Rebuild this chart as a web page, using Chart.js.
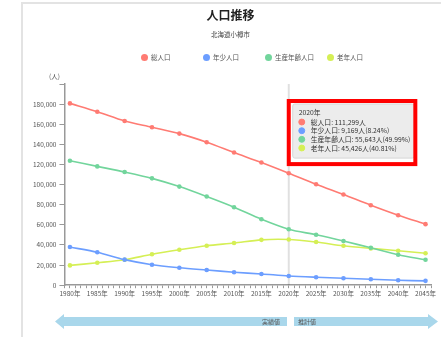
<!doctype html>
<html lang="ja">
<head>
<meta charset="utf-8">
<title>人口推移</title>
<script src="https://cdn.jsdelivr.net/npm/chart.js"></script>
<style>
  * { margin: 0; padding: 0; }
  body { width: 441px; height: 337px; overflow: hidden; background: #fff; position: relative;
         font-family: "Noto Sans CJK JP", sans-serif; }
  .frame { position: absolute; left: 21px; top: 2px; width: 440px; height: 400px;
           border-left: 2px solid #e3e3e3; border-top: 2px solid #e3e3e3; }
  .chartBox { position: absolute; left: 24px; top: 4px; width: 420px; height: 300px; }
  .legend { position: absolute; left: 141px; top: 53px; display: flex; font-size: 6.5px; color: #555; line-height: 8px; }
  .legend span { display: flex; align-items: center; width: 62px; }
  .legend i { display: block; width: 7px; height: 7px; border-radius: 50%; margin-right: 3px; }
  svg.band { position: absolute; left: 0; top: 0; }
</style>
</head>
<body>
<div class="frame"></div>
<div class="chartBox"><canvas id="popChart"></canvas></div>
<div class="legend" id="legend"></div>
<svg class="band" width="441" height="337">
  <polygon points="55,321.5 64,314 64,317 287,317 287,326 64,326 64,329" fill="#a9d7eb"/>
  <polygon points="294,317 428,317 428,314 438,321.5 428,329 428,326 294,326" fill="#a9d7eb"/>
  <text x="280" y="323.8" text-anchor="end" font-size="6" fill="#555" font-family="Noto Sans CJK JP">実績値</text>
  <text x="298" y="323.8" font-size="6" fill="#555" font-family="Noto Sans CJK JP">推計値</text>
</svg>

<script>
// 国勢調査(〜2020) と推計値(2025〜)
const years = [1980, 1985, 1990, 1995, 2000, 2005, 2010, 2015, 2020, 2025, 2030, 2035, 2040, 2045];
const total = [180728, 172486, 163211, 157022, 150687, 142161, 131928, 121924, 111299, 100300, 90100, 79500, 69600, 60700];
const young = [37900, 32800, 25400, 20400, 17400, 15100, 12900, 11200, 9169, 7900, 6900, 5900, 4900, 4300];
const working = [123700, 118100, 112500, 106200, 98000, 88100, 77500, 65600, 55643, 50100, 43900, 37200, 30300, 25300];
const elderly = [19700, 22300, 25300, 30700, 35200, 39200, 41900, 45100, 45426, 42900, 39200, 36600, 34300, 31700];

const seriesNames = ['総人口', '年少人口', '生産年齢人口', '老年人口'];
const seriesData = [total, young, working, elderly];
const colors = ['#ff7b73', '#6c9eff', '#72d59c', '#d5ef55'];
const yTicks = { min: 0, max: 200000, step: 20000 };
const focusYear = 2020;

Chart.defaults.font.family = '"Noto Sans CJK JP", sans-serif';
Chart.defaults.color = '#555';

// legend
const legend = document.getElementById('legend');
seriesNames.forEach((name, i) => {
  legend.innerHTML += '<span><i style="background:' + colors[i] + '"></i>' + name + '</span>';
});

Chart.Tooltip.positioners.topRight = function (items) {
  if (!items.length) return false;
  return { x: items[0].element.x + 6, y: this.chart.chartArea.top + 20, xAlign: 'left', yAlign: 'top' };
};

const extras = {
  id: 'extras',
  beforeDatasetsDraw(chart) {
    const { ctx, chartArea, scales } = chart;
    const x = scales.x.getPixelForValue(focusYear);
    ctx.save();
    ctx.strokeStyle = 'rgba(0,0,0,0.12)';
    ctx.lineWidth = 2;
    ctx.beginPath();
    ctx.moveTo(x, chartArea.top);
    ctx.lineTo(x, chartArea.bottom);
    ctx.stroke();
    ctx.restore();
  },
  afterDraw(chart) {
    const { ctx, chartArea } = chart;
    ctx.save();
    ctx.font = '6.5px "Noto Sans CJK JP"';
    ctx.fillStyle = '#555';
    ctx.textAlign = 'center';
    ctx.textBaseline = 'middle';
    ctx.fillText('(人)', chartArea.left - 10, chartArea.top - 7);
    ctx.restore();
  },
  afterTooltipDraw(chart, args) {
    const t = args.tooltip;
    if (!t.opacity) return;
    const ctx = chart.ctx;
    ctx.save();
    ctx.strokeStyle = '#f00';
    ctx.lineWidth = 4;
    ctx.strokeRect(t.x - 4, t.y - 3, t.width + 5, t.height + 9);
    ctx.restore();
  }
};

const datasets = seriesNames.map((name, i) => ({
  label: name,
  data: years.map((y, j) => ({ x: y, y: seriesData[i][j] })),
  borderColor: colors[i],
  backgroundColor: colors[i],
  borderWidth: 1.6,
  pointRadius: 2.3,
  pointHoverRadius: 2.3,
  pointBorderWidth: 0,
  tension: 0.3
}));

const chart = new Chart(document.getElementById('popChart'), {
  type: 'line',
  data: { datasets },
  plugins: [extras],
  options: {
    responsive: true,
    maintainAspectRatio: false,
    animation: false,
    events: [],
    layout: { padding: { left: 6, right: 13, bottom: 6, top: 0 } },
    plugins: {
      legend: { display: false },
      title: {
        display: true, text: '人口推移', color: '#222',
        font: { size: 12, weight: 'bold' }, padding: { top: 4, bottom: 4 }
      },
      subtitle: {
        display: true, text: '北海道小樽市', color: '#444',
        font: { size: 6.5 }, padding: { top: 4.4, bottom: 45.4 }
      },
      tooltip: {
        position: 'topRight',
        mode: 'index',
        intersect: false,
        backgroundColor: '#ececec',
        borderColor: '#d6d6d6',
        borderWidth: 1,
        titleColor: '#333',
        bodyColor: '#333',
        titleFont: { size: 6.8, weight: 'normal' },
        bodyFont: { size: 6.8 },
        titleMarginBottom: 1.8,
        bodySpacing: 0.5,
        padding: { top: 4, bottom: 6, left: 6, right: 4 },
        caretSize: 0,
        caretPadding: 0,
        cornerRadius: 2,
        usePointStyle: true,
        boxWidth: 6,
        boxHeight: 6,
        boxPadding: 4,
        callbacks: {
          title: items => items[0].parsed.x + '年',
          label: item => {
            const v = item.parsed.y;
            let s = item.dataset.label + ': ' + v.toLocaleString('en-US') + '人';
            if (item.datasetIndex > 0) {
              const t = total[item.dataIndex];
              s += '(' + (v / t * 100).toFixed(2) + '%)';
            }
            return s;
          }
        }
      }
    },
    scales: {
      x: {
        type: 'linear', min: 1979, max: 2046,
        border: { color: '#999', width: 1.5 },
        grid: { drawOnChartArea: false, tickLength: 3, color: '#999' },
        ticks: {
          stepSize: 1, autoSkip: false, maxRotation: 0, padding: 1,
          font: { size: 6.5 },
          callback: v => (v % 5 === 0 ? v + '年' : '')
        }
      },
      y: {
        min: yTicks.min, max: yTicks.max,
        border: { color: '#999', width: 1.5 },
        grid: { drawOnChartArea: false, tickLength: 5, color: '#999' },
        ticks: {
          stepSize: yTicks.step, padding: 3,
          font: { size: 6.5 },
          callback: v => (v === yTicks.max ? '' : v.toLocaleString('en-US'))
        }
      }
    }
  }
});

const idx = years.indexOf(focusYear);
chart.tooltip.setActiveElements(seriesNames.map((_, i) => ({ datasetIndex: i, index: idx })), { x: 0, y: 0 });
chart.update();
</script>
</body>
</html>
